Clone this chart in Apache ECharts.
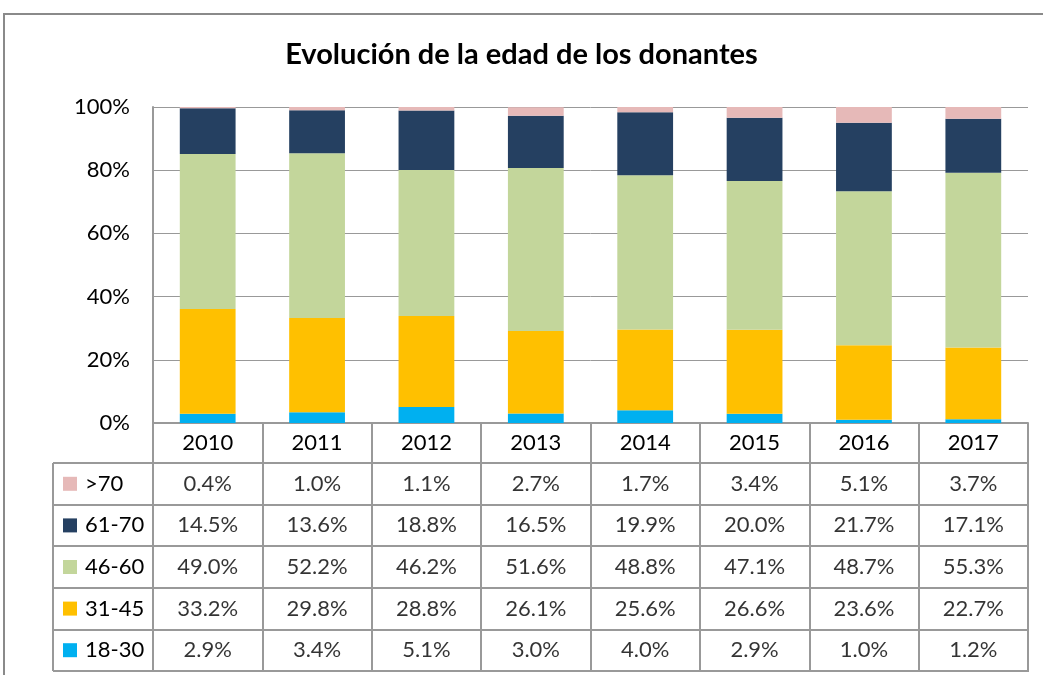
<!DOCTYPE html>
<html>
<head>
<meta charset="utf-8">
<script src="https://cdn.jsdelivr.net/npm/echarts@6/dist/echarts.min.js"></script>
<style>
  html, body { margin: 0; padding: 0; background: #fff; }
  #chart { width: 1043px; height: 675px; }
</style>
</head>
<body>
<div id="chart"></div>
<script>
const years = ['2010', '2011', '2012', '2013', '2014', '2015', '2016', '2017']
// table order, top to bottom
const groups = ['>70', '61-70', '46-60', '31-45', '18-30']
const groupColors = ['#E6B9B8', '#254061', '#C3D69B', '#FFC000', '#00B0F0']

const v70 = [0.4, 1.0, 1.1, 2.7, 1.7, 3.4, 5.1, 3.7]
const v61_70 = [14.5, 13.6, 18.8, 16.5, 19.9, 20.0, 21.7, 17.1]
const v46_60 = [49.0, 52.2, 46.2, 51.6, 48.8, 47.1, 48.7, 55.3]
const v31_45 = [33.2, 29.8, 28.8, 26.1, 25.6, 26.6, 23.6, 22.7]
const v18_30 = [2.9, 3.4, 5.1, 3.0, 4.0, 2.9, 1.0, 1.2]
const groupValues = [v70, v61_70, v46_60, v31_45, v18_30]

const yMin = 0
const yMax = 100
const yStep = 20

const FONT = 'Lato, "Liberation Sans", sans-serif'
const LINE = '#999999'

// layout
const plotLeft = 153
const plotRight = 15
const plotTop = 107
const plotBottomY = 423
const headerH = 40
const tableBottomY = 671
const labelColLeft = 53

const chart = echarts.init(document.getElementById('chart'))

// stacked from the bottom: 18-30 first
const barSeries = groups.map((g, i) => ({
  name: g,
  type: 'bar',
  stack: 'total',
  xAxisIndex: 0,
  yAxisIndex: 0,
  barWidth: '51%',
  itemStyle: { color: groupColors[i] },
  data: groupValues[i],
  z: 2
})).reverse()

const cellData = []
groups.forEach((g, r) => {
  groupValues[r].forEach((v, c) => cellData.push([c, r, v]))
})

const rich = {}
groups.forEach((g, i) => {
  rich['sq' + i] = { width: 14, height: 14, backgroundColor: groupColors[i] }
})
rich.t = { fontSize: 22, fontFamily: FONT, color: '#000', padding: [0, 0, 0, 8] }

chart.setOption({
  animation: false,
  title: {
    text: 'Evolución de la edad de los donantes',
    left: 'center',
    top: 40,
    padding: [0, 0, 0, 23],
    textStyle: { fontFamily: FONT, fontSize: 29, fontWeight: 'bold', color: '#000' }
  },
  graphic: [
    {
      type: 'rect',
      shape: { x: 4, y: 14, width: 1200, height: 800 },
      style: { fill: 'none', stroke: '#8a8a8a', lineWidth: 2 },
      silent: true
    },
    {
      type: 'line',
      shape: { x1: labelColLeft, y1: plotBottomY + headerH, x2: labelColLeft, y2: tableBottomY },
      style: { stroke: LINE, lineWidth: 2 },
      silent: true
    }
  ],
  grid: [
    { left: plotLeft, right: plotRight, top: plotTop, height: plotBottomY - plotTop },
    {
      left: plotLeft, right: plotRight, top: plotBottomY + headerH,
      height: tableBottomY - plotBottomY - headerH,
      show: true, borderColor: LINE, borderWidth: 2
    }
  ],
  xAxis: [
    {
      type: 'category',
      gridIndex: 0,
      data: years,
      axisLine: { show: true, lineStyle: { color: LINE, width: 2 } },
      axisTick: { show: true, length: headerH, lineStyle: { color: LINE, width: 2 } },
      axisLabel: { fontFamily: FONT, fontSize: 22, color: '#000', margin: 9 }
    },
    {
      type: 'category',
      gridIndex: 1,
      data: years,
      axisLine: { show: false },
      axisTick: { show: false },
      axisLabel: { show: false },
      splitLine: { show: true, lineStyle: { color: LINE, width: 2 } }
    }
  ],
  yAxis: [
    {
      type: 'value',
      gridIndex: 0,
      min: yMin,
      max: yMax,
      interval: yStep,
      axisLine: { show: true, lineStyle: { color: LINE, width: 2 } },
      axisTick: { show: false },
      splitLine: { show: true, lineStyle: { color: LINE, width: 1 } },
      axisLabel: { formatter: '{value}%', fontFamily: FONT, fontSize: 22, color: '#000', margin: 23 }
    },
    {
      type: 'category',
      gridIndex: 1,
      data: groups,
      inverse: true,
      axisLine: { show: false },
      axisTick: { show: true, length: plotLeft - labelColLeft, lineStyle: { color: LINE, width: 2 } },
      splitLine: { show: true, lineStyle: { color: LINE, width: 2 } },
      axisLabel: {
        align: 'left',
        margin: plotLeft - labelColLeft - 10,
        formatter: (val, idx) => '{sq' + idx + '|}{t|' + val + '}',
        rich: rich
      }
    }
  ],
  series: [
    ...barSeries,
    {
      type: 'scatter',
      xAxisIndex: 1,
      yAxisIndex: 1,
      symbolSize: 0,
      data: cellData,
      silent: true,
      label: {
        show: true,
        position: 'inside',
        fontFamily: FONT,
        fontSize: 22,
        color: '#000',
        formatter: p => p.value[2].toFixed(1) + '%'
      }
    }
  ]
})
</script>
</body>
</html>
